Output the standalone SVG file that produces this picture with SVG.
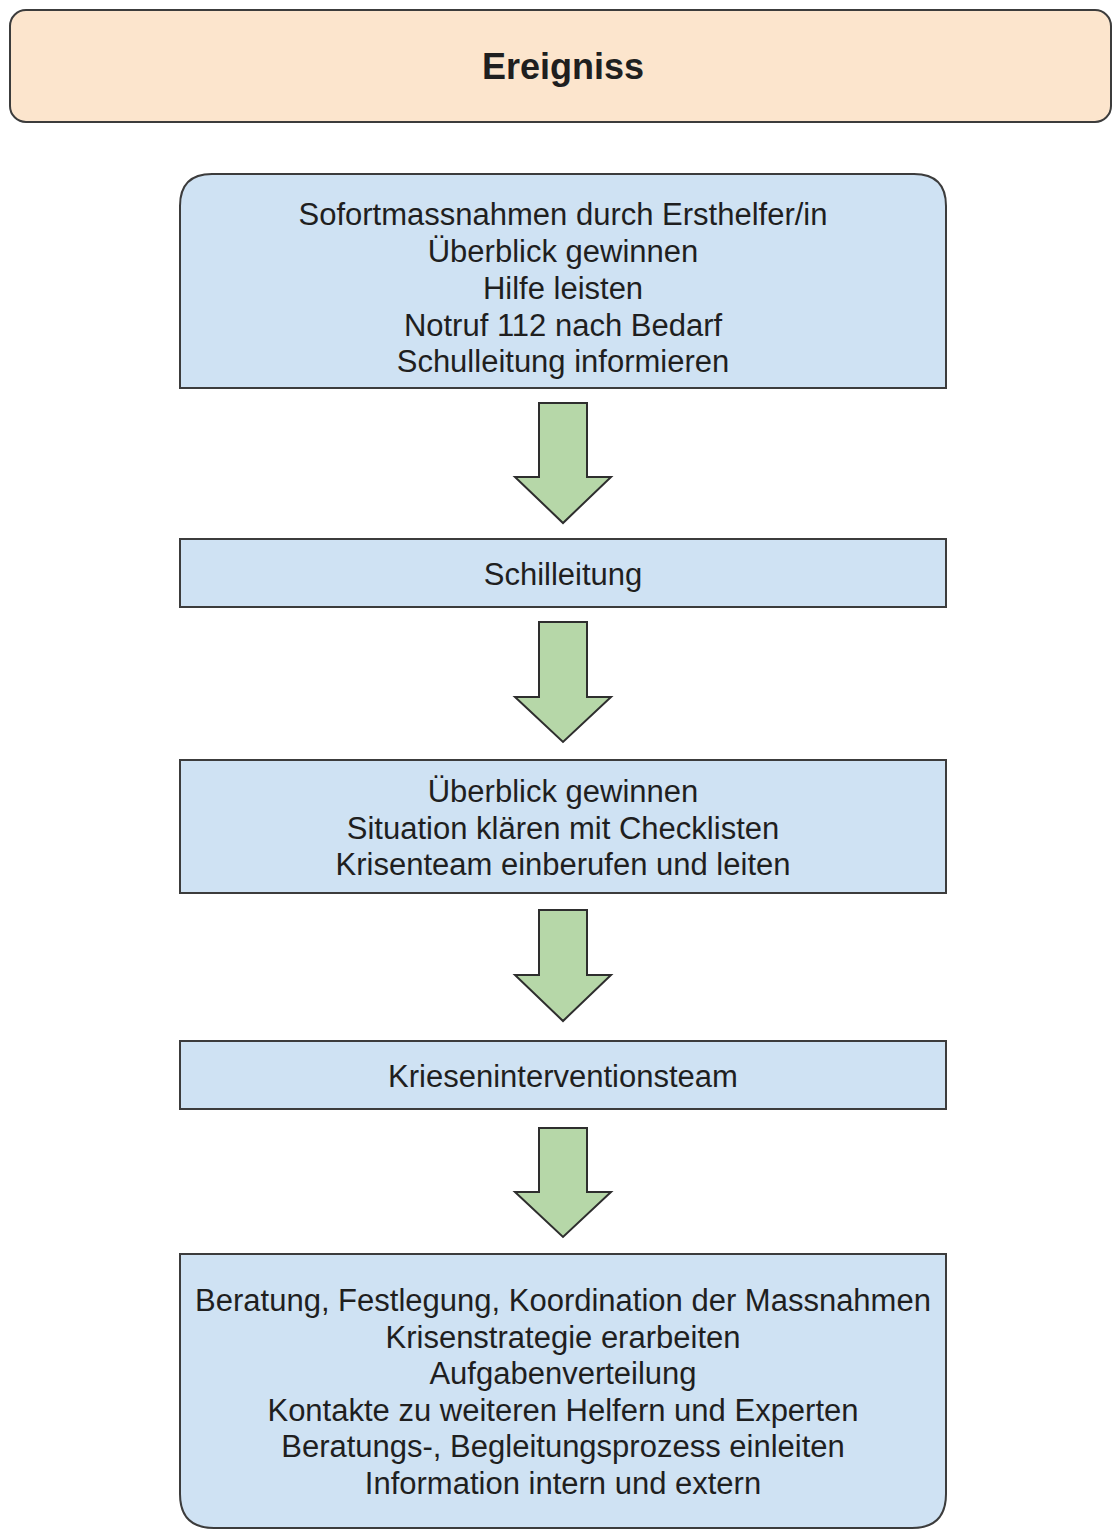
<svg xmlns="http://www.w3.org/2000/svg" width="1112" height="1530" viewBox="0 0 1112 1530">
<defs>
<style>
.t{font-family:"Liberation Sans",Arial,sans-serif;font-size:31px;fill:#1f1f1f;text-anchor:middle}
.b{font-weight:bold;font-size:36px}
.box{fill:#cfe2f3;stroke:#3c3c3c;stroke-width:2}
.arr{fill:#b6d7a8;stroke:#2e2e2e;stroke-width:2;stroke-linejoin:miter}
</style>
</defs>
<rect width="1112" height="1530" fill="#ffffff"/>
<g id="ereigniss">
<rect x="10" y="10" width="1101" height="112" rx="16" ry="16" fill="#fce5cd" stroke="#3c3c3c" stroke-width="2"/>
<text class="t b" x="563" y="79">Ereigniss</text>
</g>
<g id="sofortmassnahmen">
<path class="box" d="M180 388 L180 206 Q180 174 212 174 L914 174 Q946 174 946 206 L946 388 Z"/>
<text class="t" x="563" y="225">Sofortmassnahmen durch Ersthelfer/in</text>
<text class="t" x="563" y="262">Überblick gewinnen</text>
<text class="t" x="563" y="299">Hilfe leisten</text>
<text class="t" x="563" y="336">Notruf 112 nach Bedarf</text>
<text class="t" x="563" y="372">Schulleitung informieren</text>
</g>
<g id="schilleitung">
<rect class="box" x="180" y="539" width="766" height="68"/>
<text class="t" x="563" y="585">Schilleitung</text>
</g>
<g id="ueberblick">
<rect class="box" x="180" y="760" width="766" height="133"/>
<text class="t" x="563" y="802">Überblick gewinnen</text>
<text class="t" x="563" y="839">Situation klären mit Checklisten</text>
<text class="t" x="563" y="875">Krisenteam einberufen und leiten</text>
</g>
<g id="kriseninterventionsteam">
<rect class="box" x="180" y="1041" width="766" height="68"/>
<text class="t" x="563" y="1087">Krieseninterventionsteam</text>
</g>
<g id="beratung">
<path class="box" d="M180 1254 L946 1254 L946 1494 Q946 1528 912 1528 L214 1528 Q180 1528 180 1494 Z"/>
<text class="t" x="563" y="1311">Beratung, Festlegung, Koordination der Massnahmen</text>
<text class="t" x="563" y="1348">Krisenstrategie erarbeiten</text>
<text class="t" x="563" y="1384">Aufgabenverteilung</text>
<text class="t" x="563" y="1421">Kontakte zu weiteren Helfern und Experten</text>
<text class="t" x="563" y="1457">Beratungs-, Begleitungsprozess einleiten</text>
<text class="t" x="563" y="1494">Information intern und extern</text>
</g>
<g id="connectors">
<polygon class="arr" points="539,403 587,403 587,477 611,477 563,523 515,477 539,477"/>
<polygon class="arr" points="539,622 587,622 587,697 611,697 563,742 515,697 539,697"/>
<polygon class="arr" points="539,910 587,910 587,975 611,975 563,1021 515,975 539,975"/>
<polygon class="arr" points="539,1128 587,1128 587,1192 611,1192 563,1237 515,1192 539,1192"/>
</g>
</svg>
